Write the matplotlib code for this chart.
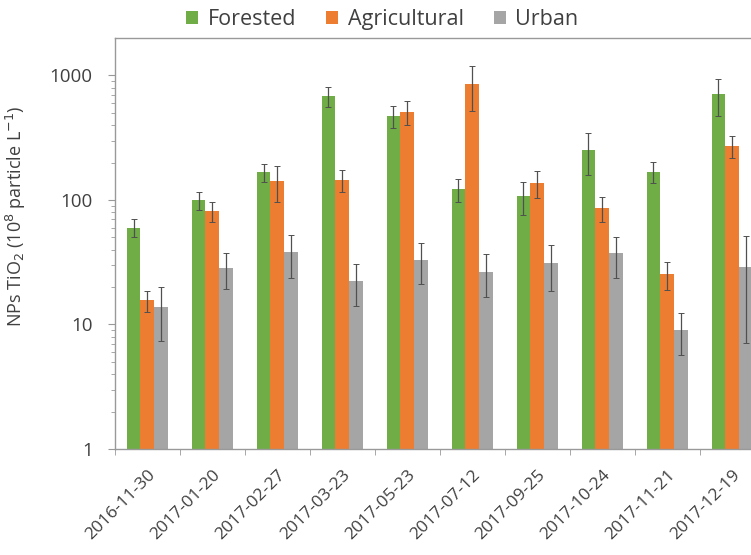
import numpy as np
import matplotlib.pyplot as plt
from matplotlib.ticker import FixedLocator, NullFormatter

dates = ["2016-11-30", "2017-01-20", "2017-02-27", "2017-03-23", "2017-05-23",
         "2017-07-12", "2017-09-25", "2017-10-24", "2017-11-21", "2017-12-19"]
forested = [60, 100, 167, 684, 473, 122, 108, 252, 169, 710]
forested_err = [10, 17, 28, 125, 95, 25, 32, 92, 32, 235]
agricultural = [15.7, 81, 142, 145, 512, 855, 138, 86, 25.3, 271]
agricultural_err = [3, 15, 46, 28, 115, 340, 34, 19, 6.3, 55]
urban = [13.7, 28.3, 38.2, 22.5, 33, 26.5, 31, 37.3, 9.0, 29.1]
urban_err = [6.3, 9, 14.5, 8.3, 12, 10, 12.3, 13.5, 3.3, 22]

plt.rcParams['font.family'] = ['Open Sans', 'DejaVu Sans']
txt = '#404040'

fig = plt.figure(figsize=(7.51, 5.55), dpi=100)
# right edge of the frame sits just past the figure border
ax = fig.add_axes([0.1531, 0.191, 0.8655, 0.7405])

x = np.arange(len(dates))
w = 0.215
ekw = dict(ecolor='#505050', elinewidth=0.9, capsize=2.5, capthick=0.7)
ax.bar(x - w, forested, w, yerr=forested_err, color='#70AD47', label='Forested', error_kw=ekw)
ax.bar(x, agricultural, w, yerr=agricultural_err, color='#ED7D31', label='Agricultural', error_kw=ekw)
ax.bar(x + w, urban, w, yerr=urban_err, color='#A5A5A5', label='Urban', error_kw=ekw)

ax.set_yscale('log')
ax.set_ylim(1, 2000)
ax.set_xlim(-0.5, len(dates) - 0.5)
ax.set_yticks([1, 10, 100, 1000])
ax.set_yticklabels(['1', '10', '100', '1000'])
ax.yaxis.set_minor_locator(FixedLocator([m * 10 ** k for k in range(3) for m in range(2, 10)]))
ax.yaxis.set_minor_formatter(NullFormatter())

ax.set_xticks(x)
ax.set_xticklabels(dates, rotation=45, ha='right', rotation_mode='anchor')
ax.xaxis.set_minor_locator(FixedLocator(np.arange(-0.5, len(dates), 1.0)))
ax.tick_params(axis='x', which='major', length=0, labelsize=12.5, colors=txt, pad=13)
ax.tick_params(axis='x', which='minor', length=4, color='#999999')
ax.tick_params(axis='y', which='major', length=5, labelsize=13.5, labelcolor=txt,
               color='#999999', pad=11)
ax.tick_params(axis='y', which='minor', length=3, color='#999999')

for s in ax.spines.values():
    s.set_color('#999999')
    s.set_linewidth(1.0)

ax.set_ylabel(r'NPs TiO$_2$ (10$^8$ particle L$^{-1}$)', fontsize=13, color=txt)
ax.yaxis.set_label_coords(-0.134, 0.565)

ax.legend(loc='center', bbox_to_anchor=(0.411, 1.045), ncol=3, frameon=False,
          fontsize=15.5, handlelength=0.55, handleheight=0.55, handletextpad=0.45,
          columnspacing=1.4, labelcolor=txt, borderaxespad=0)

fig.savefig('out.png', dpi=100)
